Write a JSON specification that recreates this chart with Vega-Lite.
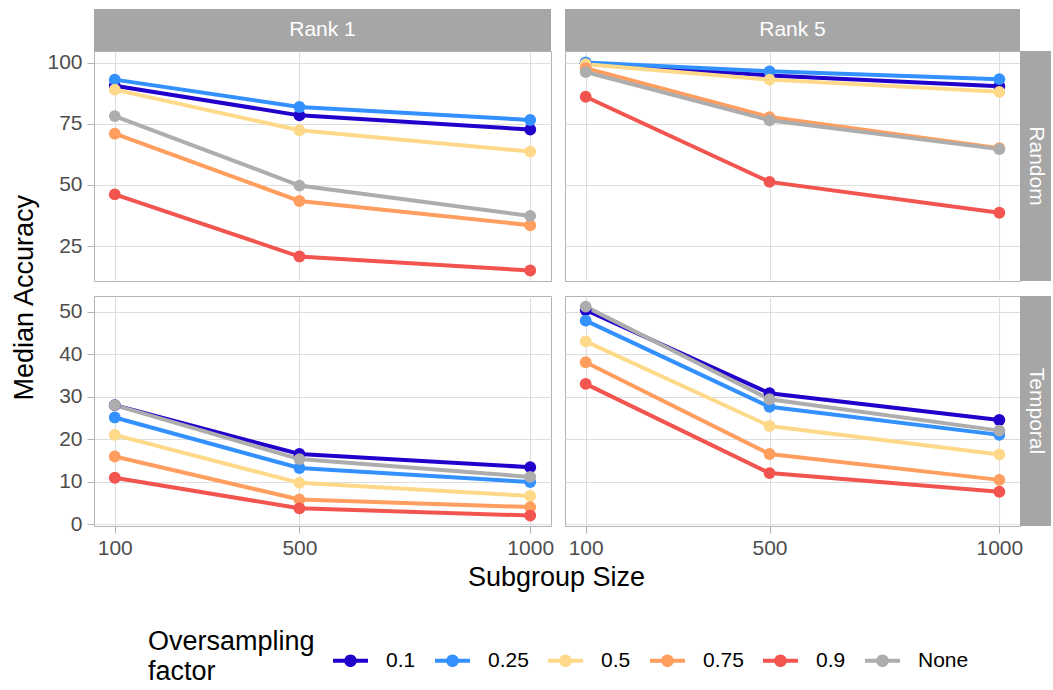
{
  "$schema": "https://vega.github.io/schema/vega-lite/v6.json",
  "autosize": {"type": "pad"},
  "padding": {"left": 9, "top": 9, "right": 0, "bottom": 0},
  "background": "white",
  "datasets": {
    "acc": [
      {"rank": "Rank 1", "split": "Random", "factor": "0.1", "size": 100, "accuracy": 90.5},
      {"rank": "Rank 1", "split": "Random", "factor": "0.1", "size": 500, "accuracy": 78.4},
      {"rank": "Rank 1", "split": "Random", "factor": "0.1", "size": 1000, "accuracy": 72.6},
      {"rank": "Rank 1", "split": "Random", "factor": "0.25", "size": 100, "accuracy": 93.0},
      {"rank": "Rank 1", "split": "Random", "factor": "0.25", "size": 500, "accuracy": 81.8},
      {"rank": "Rank 1", "split": "Random", "factor": "0.25", "size": 1000, "accuracy": 76.5},
      {"rank": "Rank 1", "split": "Random", "factor": "0.5", "size": 100, "accuracy": 88.9},
      {"rank": "Rank 1", "split": "Random", "factor": "0.5", "size": 500, "accuracy": 72.3},
      {"rank": "Rank 1", "split": "Random", "factor": "0.5", "size": 1000, "accuracy": 63.6},
      {"rank": "Rank 1", "split": "Random", "factor": "0.75", "size": 100, "accuracy": 70.9},
      {"rank": "Rank 1", "split": "Random", "factor": "0.75", "size": 500, "accuracy": 43.4},
      {"rank": "Rank 1", "split": "Random", "factor": "0.75", "size": 1000, "accuracy": 33.5},
      {"rank": "Rank 1", "split": "Random", "factor": "0.9", "size": 100, "accuracy": 46.1},
      {"rank": "Rank 1", "split": "Random", "factor": "0.9", "size": 500, "accuracy": 20.7},
      {"rank": "Rank 1", "split": "Random", "factor": "0.9", "size": 1000, "accuracy": 15.0},
      {"rank": "Rank 1", "split": "Random", "factor": "None", "size": 100, "accuracy": 78.1},
      {"rank": "Rank 1", "split": "Random", "factor": "None", "size": 500, "accuracy": 49.7},
      {"rank": "Rank 1", "split": "Random", "factor": "None", "size": 1000, "accuracy": 37.3},

      {"rank": "Rank 5", "split": "Random", "factor": "0.1", "size": 100, "accuracy": 99.7},
      {"rank": "Rank 5", "split": "Random", "factor": "0.1", "size": 500, "accuracy": 94.7},
      {"rank": "Rank 5", "split": "Random", "factor": "0.1", "size": 1000, "accuracy": 90.3},
      {"rank": "Rank 5", "split": "Random", "factor": "0.25", "size": 100, "accuracy": 100.0},
      {"rank": "Rank 5", "split": "Random", "factor": "0.25", "size": 500, "accuracy": 96.4},
      {"rank": "Rank 5", "split": "Random", "factor": "0.25", "size": 1000, "accuracy": 93.2},
      {"rank": "Rank 5", "split": "Random", "factor": "0.5", "size": 100, "accuracy": 99.3},
      {"rank": "Rank 5", "split": "Random", "factor": "0.5", "size": 500, "accuracy": 93.0},
      {"rank": "Rank 5", "split": "Random", "factor": "0.5", "size": 1000, "accuracy": 88.0},
      {"rank": "Rank 5", "split": "Random", "factor": "0.75", "size": 100, "accuracy": 97.7},
      {"rank": "Rank 5", "split": "Random", "factor": "0.75", "size": 500, "accuracy": 77.7},
      {"rank": "Rank 5", "split": "Random", "factor": "0.75", "size": 1000, "accuracy": 65.0},
      {"rank": "Rank 5", "split": "Random", "factor": "0.9", "size": 100, "accuracy": 86.0},
      {"rank": "Rank 5", "split": "Random", "factor": "0.9", "size": 500, "accuracy": 51.2},
      {"rank": "Rank 5", "split": "Random", "factor": "0.9", "size": 1000, "accuracy": 38.6},
      {"rank": "Rank 5", "split": "Random", "factor": "None", "size": 100, "accuracy": 96.1},
      {"rank": "Rank 5", "split": "Random", "factor": "None", "size": 500, "accuracy": 76.4},
      {"rank": "Rank 5", "split": "Random", "factor": "None", "size": 1000, "accuracy": 64.6},

      {"rank": "Rank 1", "split": "Temporal", "factor": "0.1", "size": 100, "accuracy": 28.0},
      {"rank": "Rank 1", "split": "Temporal", "factor": "0.1", "size": 500, "accuracy": 16.5},
      {"rank": "Rank 1", "split": "Temporal", "factor": "0.1", "size": 1000, "accuracy": 13.4},
      {"rank": "Rank 1", "split": "Temporal", "factor": "0.25", "size": 100, "accuracy": 25.1},
      {"rank": "Rank 1", "split": "Temporal", "factor": "0.25", "size": 500, "accuracy": 13.2},
      {"rank": "Rank 1", "split": "Temporal", "factor": "0.25", "size": 1000, "accuracy": 9.9},
      {"rank": "Rank 1", "split": "Temporal", "factor": "0.5", "size": 100, "accuracy": 21.0},
      {"rank": "Rank 1", "split": "Temporal", "factor": "0.5", "size": 500, "accuracy": 9.7},
      {"rank": "Rank 1", "split": "Temporal", "factor": "0.5", "size": 1000, "accuracy": 6.6},
      {"rank": "Rank 1", "split": "Temporal", "factor": "0.75", "size": 100, "accuracy": 15.9},
      {"rank": "Rank 1", "split": "Temporal", "factor": "0.75", "size": 500, "accuracy": 5.8},
      {"rank": "Rank 1", "split": "Temporal", "factor": "0.75", "size": 1000, "accuracy": 4.0},
      {"rank": "Rank 1", "split": "Temporal", "factor": "0.9", "size": 100, "accuracy": 10.9},
      {"rank": "Rank 1", "split": "Temporal", "factor": "0.9", "size": 500, "accuracy": 3.7},
      {"rank": "Rank 1", "split": "Temporal", "factor": "0.9", "size": 1000, "accuracy": 2.0},
      {"rank": "Rank 1", "split": "Temporal", "factor": "None", "size": 100, "accuracy": 28.0},
      {"rank": "Rank 1", "split": "Temporal", "factor": "None", "size": 500, "accuracy": 15.3},
      {"rank": "Rank 1", "split": "Temporal", "factor": "None", "size": 1000, "accuracy": 11.1},

      {"rank": "Rank 5", "split": "Temporal", "factor": "0.1", "size": 100, "accuracy": 50.4},
      {"rank": "Rank 5", "split": "Temporal", "factor": "0.1", "size": 500, "accuracy": 30.8},
      {"rank": "Rank 5", "split": "Temporal", "factor": "0.1", "size": 1000, "accuracy": 24.5},
      {"rank": "Rank 5", "split": "Temporal", "factor": "0.25", "size": 100, "accuracy": 47.9},
      {"rank": "Rank 5", "split": "Temporal", "factor": "0.25", "size": 500, "accuracy": 27.6},
      {"rank": "Rank 5", "split": "Temporal", "factor": "0.25", "size": 1000, "accuracy": 21.0},
      {"rank": "Rank 5", "split": "Temporal", "factor": "0.5", "size": 100, "accuracy": 43.0},
      {"rank": "Rank 5", "split": "Temporal", "factor": "0.5", "size": 500, "accuracy": 23.1},
      {"rank": "Rank 5", "split": "Temporal", "factor": "0.5", "size": 1000, "accuracy": 16.4},
      {"rank": "Rank 5", "split": "Temporal", "factor": "0.75", "size": 100, "accuracy": 38.1},
      {"rank": "Rank 5", "split": "Temporal", "factor": "0.75", "size": 500, "accuracy": 16.5},
      {"rank": "Rank 5", "split": "Temporal", "factor": "0.75", "size": 1000, "accuracy": 10.4},
      {"rank": "Rank 5", "split": "Temporal", "factor": "0.9", "size": 100, "accuracy": 33.0},
      {"rank": "Rank 5", "split": "Temporal", "factor": "0.9", "size": 500, "accuracy": 12.0},
      {"rank": "Rank 5", "split": "Temporal", "factor": "0.9", "size": 1000, "accuracy": 7.6},
      {"rank": "Rank 5", "split": "Temporal", "factor": "None", "size": 100, "accuracy": 51.2},
      {"rank": "Rank 5", "split": "Temporal", "factor": "None", "size": 500, "accuracy": 29.4},
      {"rank": "Rank 5", "split": "Temporal", "factor": "None", "size": 1000, "accuracy": 22.0}
    ]
  },
  "columns": 4,
  "bounds": "flush",
  "align": "each",
  "spacing": {"row": 0, "column": 0},
  "concat": [
    {
      "width": 457, "height": 42,
      "view": {"fill": "#A6A6A6", "stroke": null},
      "data": {"values": [{"label": "Rank 1"}]},
      "mark": {"type": "text", "color": "white", "fontSize": 21, "align": "center", "baseline": "middle"},
      "encoding": {"text": {"field": "label"}}
    },
    {"width": 14, "height": 1, "view": {"stroke": null}, "data": {"values": []}, "mark": "rect"},
    {
      "width": 455, "height": 42,
      "view": {"fill": "#A6A6A6", "stroke": null},
      "data": {"values": [{"label": "Rank 5"}]},
      "mark": {"type": "text", "color": "white", "fontSize": 21, "align": "center", "baseline": "middle"},
      "encoding": {"text": {"field": "label"}}
    },
    {"width": 31, "height": 1, "view": {"stroke": null}, "data": {"values": []}, "mark": "rect"},

    {
      "width": 457, "height": 230,
      "view": {"stroke": "#B3B3B3", "strokeWidth": 1},
      "data": {"name": "acc"},
      "transform": [{"filter": {"field": "rank", "equal": "Rank 1"}}, {"filter": {"field": "split", "equal": "Random"}}],
      "encoding": {
        "color": {
          "field": "factor", "type": "nominal", "title": ["Oversampling", "factor"],
          "scale": {"domain": ["0.1", "0.25", "0.5", "0.75", "0.9", "None"], "range": ["#2200CC", "#3390FF", "#FFD98A", "#FF9E5E", "#F25550", "#ADADAD"]},
          "legend": {"orient": "none", "legendX": 54, "legendY": 634, "direction": "horizontal", "titleOrient": "left",
            "encode": {"symbols": {"update": {"fill": {"scale": "color", "field": "value"}, "stroke": {"value": "transparent"}, "strokeWidth": {"value": 0}, "opacity": {"value": 1}}}}}
        }
      },
      "layer": [
        {"mark": {"type": "line", "strokeWidth": 4},
         "encoding": {
           "x": {"field": "size", "type": "quantitative", "scale": {"domain": [55, 1045], "nice": false, "zero": false}, "axis": {"values": [100, 500, 1000], "labels": false, "ticks": false, "title": null}},
           "y": {"field": "accuracy", "type": "quantitative", "scale": {"domain": [10.7, 104.7], "nice": false, "zero": false}, "axis": {"values": [25, 50, 75, 100], "title": "Median Accuracy", "titleAngle": 270, "titleAlign": "left", "titleBaseline": "alphabetic", "titleX": -62, "titleY": 349}}
         }},
        {"mark": {"type": "point", "filled": true, "size": 140, "opacity": 1},
         "encoding": {
           "x": {"field": "size", "type": "quantitative", "scale": {"domain": [55, 1045], "nice": false, "zero": false}, "axis": {"values": [300, 750], "orient": "top", "labels": false, "ticks": false, "title": null, "gridColor": "#EDEDED", "gridWidth": 0.8}},
           "y": {"field": "accuracy", "type": "quantitative", "scale": {"domain": [10.7, 104.7], "nice": false, "zero": false}, "axis": {"values": [12.5, 37.5, 62.5, 87.5], "orient": "right", "labels": false, "ticks": false, "title": null, "gridColor": "#EDEDED", "gridWidth": 0.8}}
         }}
      ],
      "resolve": {"axis": {"x": "independent", "y": "independent"}}
    },
    {"width": 14, "height": 1, "view": {"stroke": null}, "data": {"values": []}, "mark": "rect"},
    {
      "width": 455, "height": 230,
      "view": {"stroke": "#B3B3B3", "strokeWidth": 1},
      "data": {"name": "acc"},
      "transform": [{"filter": {"field": "rank", "equal": "Rank 5"}}, {"filter": {"field": "split", "equal": "Random"}}],
      "encoding": {
        "color": {
          "field": "factor", "type": "nominal", "title": ["Oversampling", "factor"],
          "scale": {"domain": ["0.1", "0.25", "0.5", "0.75", "0.9", "None"], "range": ["#2200CC", "#3390FF", "#FFD98A", "#FF9E5E", "#F25550", "#ADADAD"]},
          "legend": {"orient": "none", "legendX": 54, "legendY": 634, "direction": "horizontal", "titleOrient": "left",
            "encode": {"symbols": {"update": {"fill": {"scale": "color", "field": "value"}, "stroke": {"value": "transparent"}, "strokeWidth": {"value": 0}, "opacity": {"value": 1}}}}}
        }
      },
      "layer": [
        {"mark": {"type": "line", "strokeWidth": 4},
         "encoding": {
           "x": {"field": "size", "type": "quantitative", "scale": {"domain": [55, 1045], "nice": false, "zero": false}, "axis": {"values": [100, 500, 1000], "labels": false, "ticks": false, "title": null}},
           "y": {"field": "accuracy", "type": "quantitative", "scale": {"domain": [10.7, 104.7], "nice": false, "zero": false}, "axis": {"values": [25, 50, 75, 100], "labels": false, "ticks": false, "title": null}}
         }},
        {"mark": {"type": "point", "filled": true, "size": 140, "opacity": 1},
         "encoding": {
           "x": {"field": "size", "type": "quantitative", "scale": {"domain": [55, 1045], "nice": false, "zero": false}, "axis": {"values": [300, 750], "orient": "top", "labels": false, "ticks": false, "title": null, "gridColor": "#EDEDED", "gridWidth": 0.8}},
           "y": {"field": "accuracy", "type": "quantitative", "scale": {"domain": [10.7, 104.7], "nice": false, "zero": false}, "axis": {"values": [12.5, 37.5, 62.5, 87.5], "orient": "right", "labels": false, "ticks": false, "title": null, "gridColor": "#EDEDED", "gridWidth": 0.8}}
         }}
      ],
      "resolve": {"axis": {"x": "independent", "y": "independent"}}
    },
    {
      "width": 31, "height": 230,
      "view": {"fill": "#A6A6A6", "stroke": null},
      "data": {"values": [{"label": "Random"}]},
      "mark": {"type": "text", "color": "white", "fontSize": 21, "angle": 90, "align": "center", "baseline": "middle"},
      "encoding": {"text": {"field": "label"}}
    },

    {"width": 1, "height": 15, "view": {"stroke": null}, "data": {"values": []}, "mark": "rect"},
    {"width": 1, "height": 15, "view": {"stroke": null}, "data": {"values": []}, "mark": "rect"},
    {"width": 1, "height": 15, "view": {"stroke": null}, "data": {"values": []}, "mark": "rect"},
    {"width": 1, "height": 15, "view": {"stroke": null}, "data": {"values": []}, "mark": "rect"},

    {
      "width": 457, "height": 230,
      "view": {"stroke": "#B3B3B3", "strokeWidth": 1},
      "data": {"name": "acc"},
      "transform": [{"filter": {"field": "rank", "equal": "Rank 1"}}, {"filter": {"field": "split", "equal": "Temporal"}}],
      "encoding": {
        "color": {
          "field": "factor", "type": "nominal", "title": ["Oversampling", "factor"],
          "scale": {"domain": ["0.1", "0.25", "0.5", "0.75", "0.9", "None"], "range": ["#2200CC", "#3390FF", "#FFD98A", "#FF9E5E", "#F25550", "#ADADAD"]},
          "legend": {"orient": "none", "legendX": 54, "legendY": 634, "direction": "horizontal", "titleOrient": "left",
            "encode": {"symbols": {"update": {"fill": {"scale": "color", "field": "value"}, "stroke": {"value": "transparent"}, "strokeWidth": {"value": 0}, "opacity": {"value": 1}}}}}
        }
      },
      "layer": [
        {"mark": {"type": "line", "strokeWidth": 4},
         "encoding": {
           "x": {"field": "size", "type": "quantitative", "scale": {"domain": [55, 1045], "nice": false, "zero": false}, "axis": {"values": [100, 500, 1000], "format": "d", "title": "Subgroup Size", "titleAlign": "center", "titleBaseline": "alphabetic", "titleX": 462, "titleY": 59}},
           "y": {"field": "accuracy", "type": "quantitative", "scale": {"domain": [-0.46, 53.7], "nice": false, "zero": false}, "axis": {"values": [0, 10, 20, 30, 40, 50], "title": null}}
         }},
        {"mark": {"type": "point", "filled": true, "size": 140, "opacity": 1},
         "encoding": {
           "x": {"field": "size", "type": "quantitative", "scale": {"domain": [55, 1045], "nice": false, "zero": false}, "axis": {"values": [300, 750], "orient": "top", "labels": false, "ticks": false, "title": null, "gridColor": "#EDEDED", "gridWidth": 0.8}},
           "y": {"field": "accuracy", "type": "quantitative", "scale": {"domain": [-0.46, 53.7], "nice": false, "zero": false}, "axis": {"values": [5, 15, 25, 35, 45], "orient": "right", "labels": false, "ticks": false, "title": null, "gridColor": "#EDEDED", "gridWidth": 0.8}}
         }}
      ],
      "resolve": {"axis": {"x": "independent", "y": "independent"}}
    },
    {"width": 14, "height": 1, "view": {"stroke": null}, "data": {"values": []}, "mark": "rect"},
    {
      "width": 455, "height": 230,
      "view": {"stroke": "#B3B3B3", "strokeWidth": 1},
      "data": {"name": "acc"},
      "transform": [{"filter": {"field": "rank", "equal": "Rank 5"}}, {"filter": {"field": "split", "equal": "Temporal"}}],
      "encoding": {
        "color": {
          "field": "factor", "type": "nominal", "title": ["Oversampling", "factor"],
          "scale": {"domain": ["0.1", "0.25", "0.5", "0.75", "0.9", "None"], "range": ["#2200CC", "#3390FF", "#FFD98A", "#FF9E5E", "#F25550", "#ADADAD"]},
          "legend": {"orient": "none", "legendX": 54, "legendY": 634, "direction": "horizontal", "titleOrient": "left",
            "encode": {"symbols": {"update": {"fill": {"scale": "color", "field": "value"}, "stroke": {"value": "transparent"}, "strokeWidth": {"value": 0}, "opacity": {"value": 1}}}}}
        }
      },
      "layer": [
        {"mark": {"type": "line", "strokeWidth": 4},
         "encoding": {
           "x": {"field": "size", "type": "quantitative", "scale": {"domain": [55, 1045], "nice": false, "zero": false}, "axis": {"values": [100, 500, 1000], "format": "d", "title": null}},
           "y": {"field": "accuracy", "type": "quantitative", "scale": {"domain": [-0.46, 53.7], "nice": false, "zero": false}, "axis": {"values": [0, 10, 20, 30, 40, 50], "labels": false, "ticks": false, "title": null}}
         }},
        {"mark": {"type": "point", "filled": true, "size": 140, "opacity": 1},
         "encoding": {
           "x": {"field": "size", "type": "quantitative", "scale": {"domain": [55, 1045], "nice": false, "zero": false}, "axis": {"values": [300, 750], "orient": "top", "labels": false, "ticks": false, "title": null, "gridColor": "#EDEDED", "gridWidth": 0.8}},
           "y": {"field": "accuracy", "type": "quantitative", "scale": {"domain": [-0.46, 53.7], "nice": false, "zero": false}, "axis": {"values": [5, 15, 25, 35, 45], "orient": "right", "labels": false, "ticks": false, "title": null, "gridColor": "#EDEDED", "gridWidth": 0.8}}
         }}
      ],
      "resolve": {"axis": {"x": "independent", "y": "independent"}}
    },
    {
      "width": 31, "height": 230,
      "view": {"fill": "#A6A6A6", "stroke": null},
      "data": {"values": [{"label": "Temporal"}]},
      "mark": {"type": "text", "color": "white", "fontSize": 21, "angle": 90, "align": "center", "baseline": "middle"},
      "encoding": {"text": {"field": "label"}}
    }
  ],
  "config": {
    "font": "Liberation Sans",
    "axis": {
      "domain": false,
      "grid": true,
      "gridColor": "#DEDEDE",
      "gridWidth": 1.1,
      "tickColor": "#B3B3B3",
      "tickSize": 7,
      "tickWidth": 1,
      "labelFontSize": 21,
      "labelColor": "#4D4D4D",
      "labelFlush": false,
      "labelOverlap": false,
      "titleFontSize": 27,
      "titleFontWeight": "normal",
      "titleColor": "#000000"
    },
    "axisX": {"labelPadding": 4},
    "axisY": {"labelPadding": 5},
    "legend": {
      "titleFontSize": 27,
      "titleFontWeight": "normal",
      "titleColor": "#000000",
      "titleLineHeight": 30,
      "titleLimit": 400,
      "titlePadding": 18,
      "labelFontSize": 21,
      "labelColor": "#000000",
      "labelOffset": 18,
      "labelLimit": 200,
      "columnPadding": 19,
      "symbolType": "M-1,-0.12L1,-0.12L1,0.12L-1,0.12Z M0.36,0A0.36,0.36 0 1 1 -0.36,0A0.36,0.36 0 1 1 0.36,0Z",
      "symbolSize": 1225,
      "symbolStrokeWidth": 0
    }
  }
}
